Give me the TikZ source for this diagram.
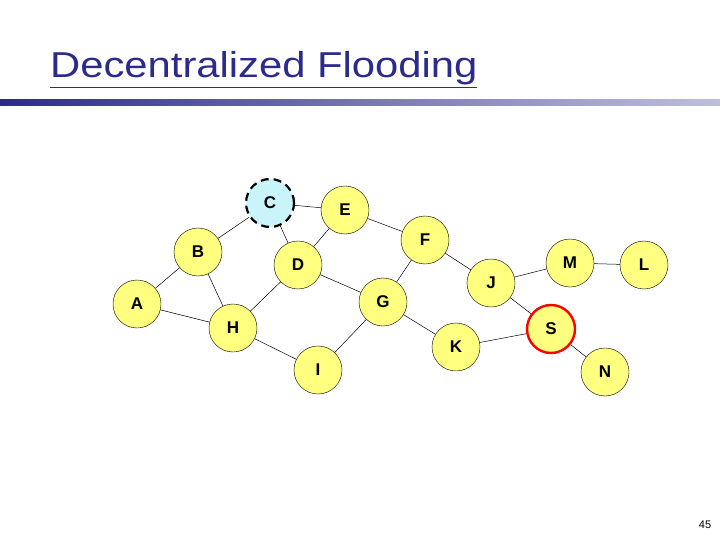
\documentclass[tikz,border=0pt]{standalone}
\usepackage{fontspec}
\setmainfont{Liberation Sans}
\usepackage{tikz}
\usetikzlibrary{calc}
\definecolor{titleblue}{HTML}{2B2B8C}
\definecolor{peer}{HTML}{FFFF80}
\definecolor{src}{HTML}{C8F4FA}
\begin{document}
\begin{tikzpicture}[x=1pt,y=-1pt,
	peer/.style={circle,draw,fill=peer,minimum size=48pt,inner sep=0pt,
		font=\bfseries\fontsize{17}{19}\selectfont},
	start/.style={peer,fill=src,dashed,line width=2.2pt,dash pattern=on 8pt off 5pt},
	target/.style={peer,draw=red,line width=2.4pt},
	link/.style={draw,line width=0.5pt}
	]
	\useasboundingbox (0,0) rectangle (720,540);
	%%% title and bar
	\node[anchor=base west,text=titleblue,font=\fontsize{36}{40}\selectfont,inner sep=0pt,xscale=1.16,transform shape] (title) at (50,78) {\underline{Decentralized Flooding}};
	\shade[left color=titleblue,right color=titleblue!30] (0,100) rectangle (720,106);
	%%% peers
	\node[start] (C) at (270,203) {C};
	\node[peer] (E) at (345,210) {E};
	\node[peer] (B) at (198,252) {B};
	\node[peer] (D) at (298,265) {D};
	\node[peer] (F) at (425,240) {F};
	\node[peer] (A) at (137,304) {A};
	\node[peer] (H) at (233,328) {H};
	\node[peer] (G) at (383,302) {G};
	\node[peer] (I) at (318,370) {I};
	\node[peer] (K) at (456,347) {K};
	\node[peer] (J) at (491,283) {J};
	\node[peer] (M) at (570,263) {M};
	\node[peer] (L) at (644,265) {L};
	\node[target] (S) at (551,329) {S};
	\node[peer] (N) at (605,372) {N};
	%%% links
	\foreach \u/\v in {C/B,C/E,C/D,E/D,E/F,B/A,B/H,A/H,D/H,D/G,F/G,F/J,G/I,G/K,H/I,J/M,M/L,J/S,K/S,S/N}{%
		\path[link] (\u) -- (\v);
	}
	%%% page number
	\node[font=\fontsize{11}{12}\selectfont] (page) at (705,525) {45};
\end{tikzpicture}
\end{document}
